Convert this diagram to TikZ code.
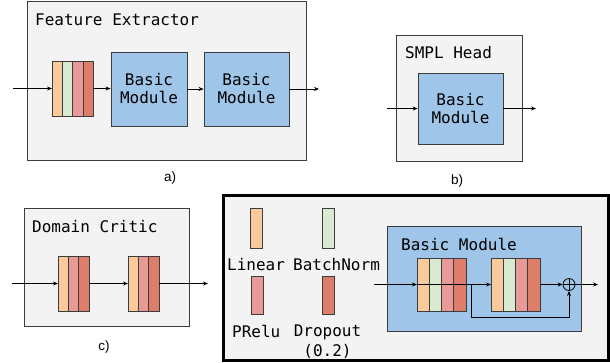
\documentclass[tikz,border=0pt]{standalone}
\usepackage{fontspec}
\setmainfont{Liberation Sans}
\setmonofont{DejaVu Sans Mono}
\usetikzlibrary{arrows.meta}

\definecolor{panelgray}{HTML}{F3F3F3}
\definecolor{edgegray}{HTML}{3C3C3C}
\definecolor{moduleblue}{HTML}{9FC5E8}
\definecolor{linearc}{HTML}{F9CB9C}
\definecolor{batchc}{HTML}{D9EAD3}
\definecolor{preluc}{HTML}{EA9999}
\definecolor{dropc}{HTML}{DD7E6B}

\newcommand{\monofont}{\ttfamily\fontsize{16}{18}\selectfont}

\begin{document}
\begin{tikzpicture}[x=1pt,y=-1pt,
    panel/.style={draw=edgegray,fill=panelgray,line width=0.8pt},
    module/.style={draw=edgegray,fill=moduleblue,line width=0.8pt,inner sep=0pt,align=center,font=\monofont},
    layer/.style={draw=edgegray,line width=0.7pt,inner sep=0pt,outer sep=0pt,anchor=north west,minimum width=10.3pt,minimum height=55pt},
    wide/.style={minimum width=12.25pt,minimum height=53pt},
    title/.style={anchor=base west,inner sep=0pt,font=\monofont},
    caption/.style={font=\fontsize{13.5}{15}\selectfont},
    arr/.style={-{Stealth[length=5pt,width=4pt]},line width=0.8pt}]
    \useasboundingbox (0,0) rectangle (610,362);

    % a) feature extractor
    \draw[panel] (27,1.5) rectangle (306,160);
    \node[title] (feTitle) at (35,25) {Feature Extractor};
    \node[layer,fill=linearc] (a1) at (52,61) {};
    \node[layer,fill=batchc] (a2) at (a1.north east) {};
    \node[layer,fill=preluc] (a3) at (a2.north east) {};
    \node[layer,fill=dropc] (a4) at (a3.north east) {};
    \node[module,minimum width=76pt,minimum height=74pt] (abm1) at (149,89) {Basic\\Module};
    \node[module,minimum width=85pt,minimum height=74pt] (abm2) at (246.5,89) {Basic\\Module};
    \coordinate (aIn) at (13,88.5);
    \coordinate (aOut) at (319,89);
    \draw[arr] (aIn) -- (a1.west);
    \draw[arr] (a4.east) -- (abm1.west |- a4.east);
    \draw[arr] (abm1) -- (abm2);
    \draw[arr] (abm2) -- (aOut);
    \node[caption] (capA) at (170,178) {a)};

    % b) SMPL head
    \draw[panel] (396,35) rectangle (522,161);
    \node[title] (smplTitle) at (405,58) {SMPL Head};
    \node[module,minimum width=85pt,minimum height=71pt] (bbm) at (460.5,108.5) {Basic\\Module};
    \coordinate (bIn) at (387,108.5);
    \coordinate (bOut) at (536,108.5);
    \draw[arr] (bIn) -- (bbm);
    \draw[arr] (bbm) -- (bOut);
    \node[caption] (capB) at (457,181) {b)};

    % c) domain critic
    \draw[panel] (24,208) rectangle (189,326);
    \node[title] (dcTitle) at (32,232) {Domain Critic};
    \node[layer,fill=linearc] (c1) at (58,256) {};
    \node[layer,fill=preluc] (c2) at (c1.north east) {};
    \node[layer,fill=dropc] (c3) at (c2.north east) {};
    \node[layer,fill=linearc] (c4) at (128,256) {};
    \node[layer,fill=preluc] (c5) at (c4.north east) {};
    \node[layer,fill=dropc] (c6) at (c5.north east) {};
    \coordinate (cIn) at (12,283.5);
    \coordinate (cOut) at (208,283.5);
    \draw[arr] (cIn) -- (c1.west);
    \draw[arr] (c3.east) -- (c4.west);
    \draw[arr] (c6.east) -- (cOut);
    \node[caption] (capC) at (104,347) {c)};

    % legend + basic module
    \draw[fill=panelgray,line width=3pt] (223.5,195.5) rectangle (608.5,360.5);
    \node[layer,fill=linearc,minimum width=12pt,minimum height=40pt] (legLin) at (250,208) {};
    \node[layer,fill=batchc,minimum width=12pt,minimum height=40pt] (legBn) at (322,208) {};
    \node[layer,fill=preluc,minimum width=12pt,minimum height=38pt] (legPr) at (251,276) {};
    \node[layer,fill=dropc,minimum width=12pt,minimum height=38pt] (legDo) at (322,276) {};
    \node[title] (txtLin) at (227,270) {Linear};
    \node[title] (txtBn) at (293,270) {BatchNorm};
    \node[title] (txtPr) at (232,337) {PRelu};
    \node[anchor=north,inner sep=0pt,align=center,font=\ttfamily\fontsize{16}{20}\selectfont] (txtDo) at (327.5,325) {Dropout\\(0.2)};

    \node[draw=edgegray,fill=moduleblue,line width=0.8pt,minimum width=194pt,minimum height=105pt] (dbm) at (484,278.5) {};
    \node[title] (bmTitle) at (401,250) {Basic Module};
    \node[layer,wide,fill=linearc] (d1) at (417,258) {};
    \node[layer,wide,fill=batchc] (d2) at (d1.north east) {};
    \node[layer,wide,fill=preluc] (d3) at (d2.north east) {};
    \node[layer,wide,fill=dropc] (d4) at (d3.north east) {};
    \node[layer,wide,fill=linearc] (d5) at (491,258) {};
    \node[layer,wide,fill=batchc] (d6) at (d5.north east) {};
    \node[layer,wide,fill=preluc] (d7) at (d6.north east) {};
    \node[layer,wide,fill=dropc] (d8) at (d7.north east) {};
    \node[circle,draw=black,line width=0.8pt,minimum size=12pt,inner sep=0pt,
        path picture={\draw[line width=0.8pt] (path picture bounding box.north) -- (path picture bounding box.south)
            (path picture bounding box.west) -- (path picture bounding box.east);}] (plus) at (569,284.5) {};
    \coordinate (dIn) at (374,284.5);
    \coordinate (dSplit) at (471,284.5);
    \coordinate (dOut) at (598,284.5);
    \draw[arr] (dIn) -- (d1.west);
    \draw[line width=0.8pt] (d1.west) -- (d4.east);
    \draw[arr] (d4.east) -- (d5.west);
    \draw[arr] (dSplit) -- ++(0,32.5) -| (plus.south);
    \draw[arr] (d8.east) -- (plus.west);
    \draw[arr] (plus.east) -- (dOut);
\end{tikzpicture}
\end{document}
